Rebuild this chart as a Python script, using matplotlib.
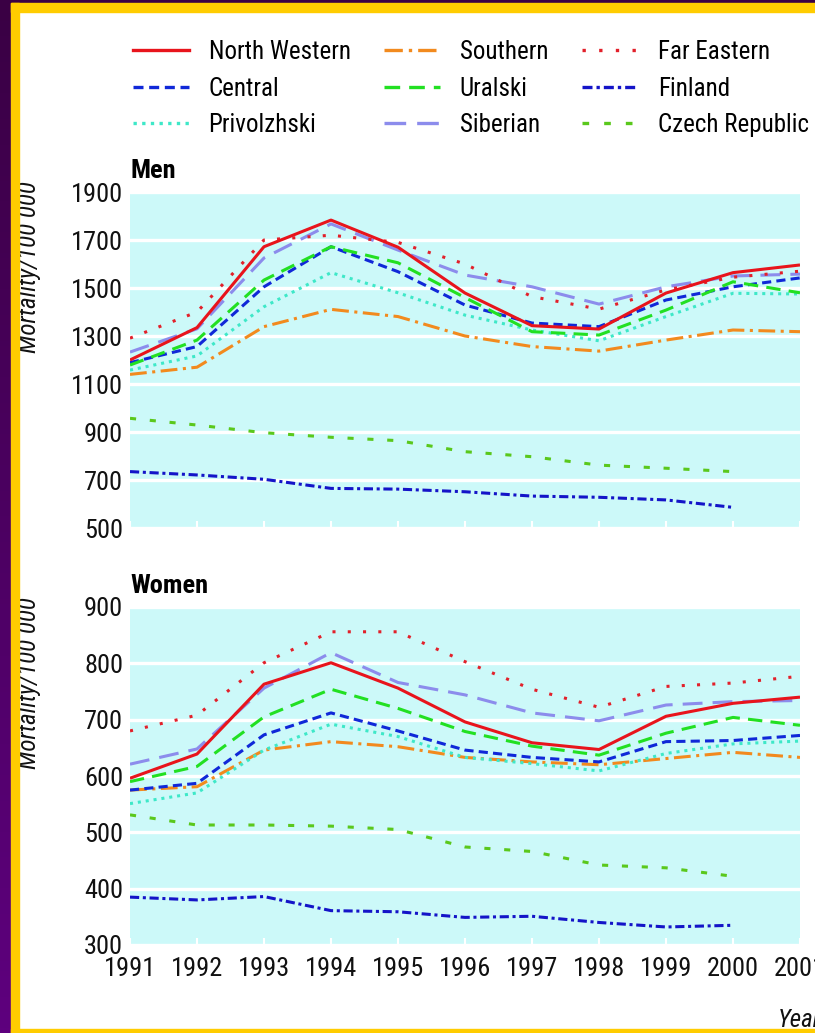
import matplotlib
matplotlib.use("Agg")
import matplotlib.pyplot as plt
import numpy as np
from matplotlib import font_manager as fm
from matplotlib.colors import LinearSegmentedColormap
from matplotlib.lines import Line2D
from matplotlib.patches import Rectangle

# prefer a narrow sans face, fall back to a condensed cut of a regular family
narrow_names = ["Liberation Sans Narrow", "Roboto Condensed", "Open Sans Condensed",
                "Noto Sans Condensed", "DejaVu Sans Condensed", "Arial Narrow"]
installed = {f.name for f in fm.fontManager.ttflist}
condensed = [f.name for f in fm.fontManager.ttflist
             if "condensed" in str(f.stretch) or "narrow" in f.fname.lower()
             or "condensed" in f.fname.lower()]
picked = [n for n in narrow_names if n in installed]
if picked:
    family = picked[0]
elif condensed:
    family = sorted(set(condensed), key=lambda n: ("DejaVu" not in n, n))[0]
    plt.rcParams["font.stretch"] = "condensed"
else:
    family = "DejaVu Sans"
narrow_ok = bool(picked or condensed)
plt.rcParams["font.family"] = [family, "DejaVu Sans"]
fs = 18 if picked else (16 if narrow_ok else 14)

years = [1991, 1992, 1993, 1994, 1995, 1996, 1997, 1998, 1999, 2000, 2001]

# Men, mortality per 100 000
men_north_western = [1200, 1335, 1672, 1783, 1670, 1479, 1343, 1329, 1479, 1564, 1596]
men_central = [1189, 1256, 1505, 1672, 1568, 1429, 1354, 1339, 1450, 1505, 1542]
men_privolzhski = [1158, 1217, 1422, 1564, 1480, 1387, 1325, 1280, 1381, 1478, 1475]
men_southern = [1140, 1170, 1339, 1411, 1381, 1300, 1256, 1237, 1283, 1325, 1318]
men_uralski = [1179, 1283, 1533, 1672, 1605, 1460, 1318, 1304, 1408, 1526, 1480]
men_siberian = [1233, 1330, 1625, 1767, 1658, 1554, 1505, 1433, 1505, 1550, 1558]
men_far_eastern = [1291, 1400, 1700, 1720, 1690, 1600, 1464, 1412, 1492, 1545, 1570]
men_finland = [735, 721, 703, 665, 662, 651, 633, 628, 617, 586]
men_czech = [957, 929, 897, 878, 864, 818, 797, 762, 749, 735]

# Women, mortality per 100 000
women_north_western = [596, 639, 763, 801, 756, 696, 659, 647, 706, 729, 740]
women_central = [575, 587, 673, 712, 680, 646, 633, 625, 661, 663, 672]
women_privolzhski = [551, 570, 646, 692, 670, 633, 622, 609, 640, 657, 662]
women_southern = [575, 581, 646, 661, 652, 633, 625, 620, 631, 642, 633]
women_uralski = [590, 617, 705, 754, 720, 679, 653, 637, 676, 704, 690]
women_siberian = [621, 648, 756, 819, 766, 744, 712, 698, 726, 732, 734]
women_far_eastern = [680, 708, 801, 856, 856, 803, 754, 722, 759, 765, 777]
women_finland = [385, 380, 386, 361, 359, 349, 351, 340, 332, 335]
women_czech = [531, 513, 513, 511, 505, 474, 466, 442, 437, 422]

labels = ["North Western", "Central", "Privolzhski", "Southern", "Uralski",
          "Siberian", "Far Eastern", "Finland", "Czech Republic"]

styles = {
    "North Western": dict(color="#e8141c", ls="-"),
    "Central": dict(color="#1028d8", dashes=(3, 1.7)),
    "Privolzhski": dict(color="#3ee8c8", dashes=(1, 1.6)),
    "Southern": dict(color="#f28a1e", dashes=(5.5, 1.8, 1, 1.8)),
    "Uralski": dict(color="#22e022", dashes=(4.7, 2.7)),
    "Siberian": dict(color="#8c8cec", dashes=(6.5, 3.3)),
    "Far Eastern": dict(color="#e2202a", dashes=(1, 4)),
    "Finland": dict(color="#1414c8", dashes=(3, 1.2, 1, 1.2)),
    "Czech Republic": dict(color="#5ac81c", dashes=(2, 4.5)),
}

men = dict(zip(labels, [men_north_western, men_central, men_privolzhski,
                        men_southern, men_uralski, men_siberian,
                        men_far_eastern, men_finland, men_czech]))
women = dict(zip(labels, [women_north_western, women_central, women_privolzhski,
                          women_southern, women_uralski, women_siberian,
                          women_far_eastern, women_finland, women_czech]))

draw_order = ["Czech Republic", "Finland", "Southern", "Privolzhski", "Central",
              "Uralski", "Siberian", "Far Eastern", "North Western"]

W, H = 815, 1033
fig = plt.figure(figsize=(W / 100, H / 100), dpi=100)
fig.patch.set_facecolor("white")

# frame: purple strip on the left and top, yellow rule inside it
purple = LinearSegmentedColormap.from_list("purple", ["#3a0044", "#5e007e"])
strip = fig.add_axes([0, 0, 11 / W, 1])
strip.imshow(np.linspace(0, 1, 200).reshape(-1, 1), aspect="auto", cmap=purple)
strip.set_axis_off()
fig.patches.append(Rectangle((0, 1 - 3 / H), 1, 3 / H, transform=fig.transFigure,
                             color="#3a0044", zorder=5))
yellow = "#ffcc00"
fig.patches.append(Rectangle((11 / W, 1 - 12 / H), 1, 9 / H, transform=fig.transFigure,
                             color=yellow, zorder=5))
fig.patches.append(Rectangle((11 / W, 0), 8 / W, 1 - 3 / H, transform=fig.transFigure,
                             color=yellow, zorder=5))
fig.patches.append(Rectangle((11 / W, 0), 1, 4 / H, transform=fig.transFigure,
                             color=yellow, zorder=5))


def panel(rect, data, ylim, yticks, title, show_x):
    ax = fig.add_axes(rect)
    ax.set_facecolor("#ccf9f9")
    for name in draw_order:
        vals = data[name]
        ax.plot(years[:len(vals)], vals, lw=2.2, solid_capstyle="butt",
                dash_capstyle="butt", **styles[name])
    ax.set_xlim(1991, 2001)
    ax.set_ylim(*ylim)
    ax.set_yticks(yticks)
    ax.set_xticks(years)
    ax.grid(axis="y", color="white", lw=2.4)
    ax.set_axisbelow(True)
    for s in ax.spines.values():
        s.set_visible(False)
    ax.tick_params(axis="y", length=0, pad=5, labelsize=fs + 1, colors="#111111")
    ax.tick_params(axis="x", direction="in", length=5, width=1.5, color="white",
                   pad=9, labelsize=fs + 1, labelcolor="#111111")
    if not show_x:
        ax.set_xticklabels([])
    # panel heading sits about 14 px above the plotting area
    h_px = rect[3] * H
    ax.text(0, 1 + 14 / h_px, title, transform=ax.transAxes, fontsize=fs + 1,
            fontweight="bold", ha="left", va="baseline")
    return ax


panel([130 / W, 1 - 528 / H, 670 / W, 336 / H], men, (500, 1900),
      range(500, 2000, 200), "Men", False)
panel([130 / W, 1 - 945 / H, 670 / W, 338 / H], women, (300, 900),
      range(300, 1000, 100), "Women", True)

for yc in (267, 683):
    fig.text(29 / W, 1 - yc / H, "Mortality/100 000", rotation=90, style="italic",
             fontsize=fs, ha="center", va="center", color="#111111")
fig.text(778 / W, 1 - 1020 / H, "Year", style="italic", fontsize=fs,
         ha="left", va="center", color="#111111")

handles = [Line2D([], [], lw=2.4, dash_capstyle="butt", **styles[n]) for n in labels]
fig.legend(handles, labels, ncol=3, loc="upper left",
           bbox_to_anchor=(133 / W, 1 - 40 / H), frameon=False, fontsize=fs,
           handlelength=40 / fs, handletextpad=0.8, columnspacing=1.35,
           labelspacing=0.5, borderpad=0, borderaxespad=0)

fig.savefig("out.png", dpi=100)
